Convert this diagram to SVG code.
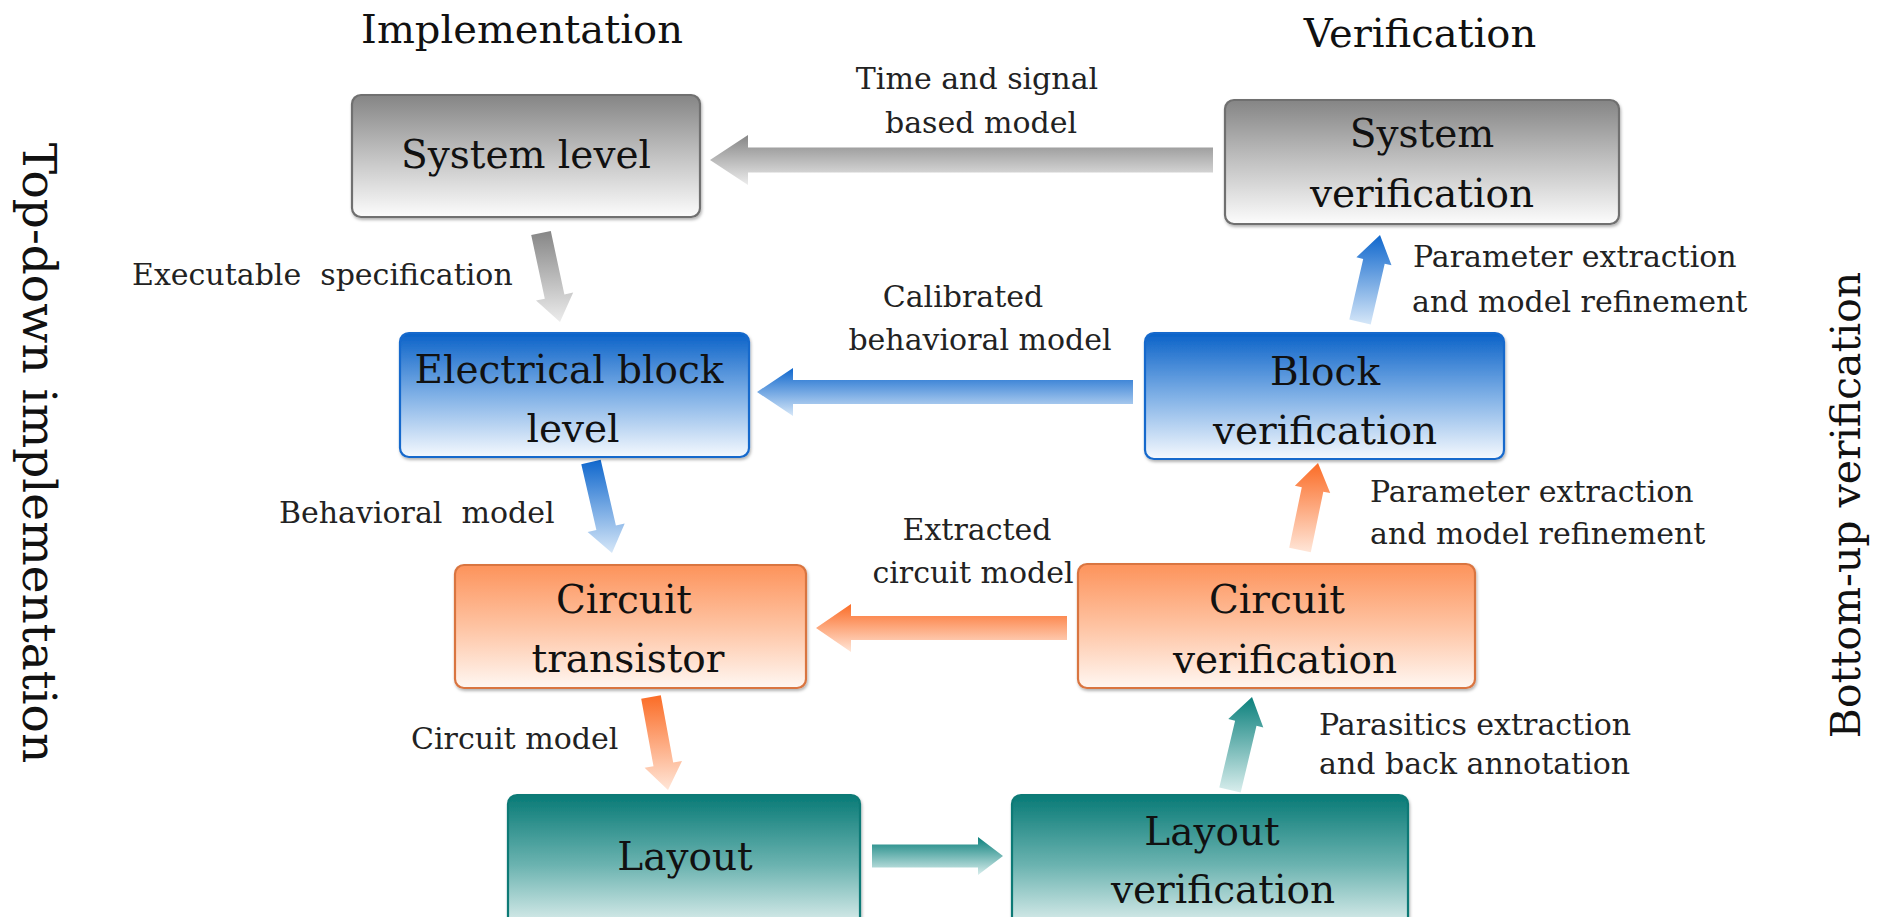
<svg xmlns="http://www.w3.org/2000/svg" width="1884" height="917" viewBox="0 0 1884 917">
  <defs>
    <!-- box fills: saturated at the top, fading to near white at the bottom -->
    <linearGradient id="gGray" x1="0" y1="0" x2="0" y2="1">
      <stop offset="0" stop-color="#858585"/>
      <stop offset="0.5" stop-color="#c2c2c2"/>
      <stop offset="1" stop-color="#fcfcfc"/>
    </linearGradient>
    <linearGradient id="gBlue" x1="0" y1="0" x2="0" y2="1">
      <stop offset="0" stop-color="#0a62c8"/>
      <stop offset="0.5" stop-color="#7fb0e6"/>
      <stop offset="1" stop-color="#f5f9fe"/>
    </linearGradient>
    <linearGradient id="gOrange" x1="0" y1="0" x2="0" y2="1">
      <stop offset="0" stop-color="#fd935b"/>
      <stop offset="0.5" stop-color="#fec3a2"/>
      <stop offset="1" stop-color="#fff7f2"/>
    </linearGradient>
    <linearGradient id="gTeal" x1="0" y1="0" x2="0" y2="1">
      <stop offset="0" stop-color="#087a76"/>
      <stop offset="0.5" stop-color="#6bb3b0"/>
      <stop offset="1" stop-color="#eef7f6"/>
    </linearGradient>
    <!-- arrow fills -->
    <linearGradient id="aGray" x1="0" y1="0" x2="0" y2="1">
      <stop offset="0" stop-color="#868686"/>
      <stop offset="1" stop-color="#ececec"/>
    </linearGradient>
    <linearGradient id="aBlue" x1="0" y1="0" x2="0" y2="1">
      <stop offset="0" stop-color="#0f67cd"/>
      <stop offset="1" stop-color="#d6e7f8"/>
    </linearGradient>
    <linearGradient id="aOrange" x1="0" y1="0" x2="0" y2="1">
      <stop offset="0" stop-color="#fb6c26"/>
      <stop offset="1" stop-color="#ffe6d8"/>
    </linearGradient>
    <linearGradient id="aTeal" x1="0" y1="0" x2="0" y2="1">
      <stop offset="0" stop-color="#0b807c"/>
      <stop offset="1" stop-color="#d9eeed"/>
    </linearGradient>
    <filter id="shadow" x="-5%" y="-10%" width="110%" height="125%">
      <feDropShadow dx="1" dy="2" stdDeviation="1.5" flood-color="#000" flood-opacity="0.3"/>
    </filter>
  </defs>
  <style>
    text { font-family: "DejaVu Serif", "Liberation Serif", serif; fill: #111; }
    .title { font-size: 40px; text-anchor: middle; }
    .side { font-size: 47px; text-anchor: middle; }
    .node { font-size: 39px; text-anchor: middle; }
    .lbl { font-size: 30px; fill: #222; }
    .mid { text-anchor: middle; }
    .box { stroke-width: 2.2; filter: url(#shadow); }
    .gray { fill: url(#gGray); stroke: #6f6f6f; }
    .blue { fill: url(#gBlue); stroke: #1669cc; }
    .orange { fill: url(#gOrange); stroke: #d97440; }
    .teal { fill: url(#gTeal); stroke: #0b7a76; }
  </style>

  <rect width="1884" height="917" fill="#ffffff"/>

  <!-- column and side headings -->
  <text class="title" x="522" y="43">Implementation</text>
  <text class="title" x="1420" y="47">Verification</text>
  <text class="side" transform="translate(23,453) rotate(90)">Top-down implementation</text>
  <text class="side" font-size="41" style="font-size:41px" transform="translate(1860,505) rotate(-90)">Bottom-up verification</text>

  <!-- connectors -->
  <g id="connectors">
    <polygon fill="url(#aGray)" points="1213,147.5 748,147.5 748,135 710,160 748,185 748,172.5 1213,172.5"/>
    <polygon fill="url(#aGray)" points="531.2,235.1 544.8,298.7 536.0,300.5 560,322 573.2,292.6 564.4,294.5 550.8,230.9"/>
    <polygon fill="url(#aBlue)" points="1133,380 793,380 793,368 757,392 793,416 793,404 1133,404"/>
    <polygon fill="url(#aBlue)" points="581.3,464.3 596.4,529.9 587.6,531.9 612,553 624.7,523.4 615.9,525.4 600.7,459.8"/>
    <polygon fill="url(#aBlue)" points="1370.7,324.5 1384.7,263.8 1391.5,265.3 1380,235 1356.4,257.3 1363.2,258.9 1349.3,319.5"/>
    <polygon fill="url(#aOrange)" points="1067,616 851,616 851,604 816,628 851,652 851,640 1067,640"/>
    <polygon fill="url(#aOrange)" points="641.2,698.8 653.5,766.2 644.6,767.8 668,790 682.0,761.0 673.2,762.6 660.8,695.2"/>
    <polygon fill="url(#aOrange)" points="1310.8,552.2 1323.3,491.7 1330.2,493.1 1318,463 1294.9,485.8 1301.8,487.2 1289.2,547.8"/>
    <polygon fill="url(#aTeal)" points="872,844.5 978,844.5 978,837 1003,856 978,875 978,867.5 872,867.5"/>
    <polygon fill="url(#aTeal)" points="1240.7,792.5 1256.5,725.8 1263.3,727.4 1252,697 1228.3,719.1 1235.1,720.7 1219.3,787.5"/>

    <!-- connector labels -->
    <text class="lbl mid" x="977" y="89">Time and signal</text>
    <text class="lbl mid" x="981" y="133">based model</text>
    <text class="lbl" x="132" y="285" xml:space="preserve">Executable  specification</text>
    <text class="lbl mid" x="963" y="307">Calibrated</text>
    <text class="lbl mid" x="980" y="350">behavioral model</text>
    <text class="lbl" x="1413" y="267">Parameter extraction</text>
    <text class="lbl" x="1412" y="312">and model refinement</text>
    <text class="lbl" x="279" y="523" xml:space="preserve">Behavioral  model</text>
    <text class="lbl mid" x="977" y="540">Extracted</text>
    <text class="lbl mid" x="973" y="583">circuit model</text>
    <text class="lbl" x="1370" y="502">Parameter extraction</text>
    <text class="lbl" x="1370" y="544">and model refinement</text>
    <text class="lbl" x="411" y="749">Circuit model</text>
    <text class="lbl" x="1319" y="735">Parasitics extraction</text>
    <text class="lbl" x="1319" y="774">and back annotation</text>
  </g>

  <!-- nodes -->
  <g id="system-level">
    <rect class="box gray" x="352" y="95" width="348" height="122" rx="9"/>
    <text class="node" x="526" y="168">System level</text>
  </g>
  <g id="system-verification">
    <rect class="box gray" x="1225" y="100" width="394" height="124" rx="9"/>
    <text class="node" x="1422" y="147">System</text>
    <text class="node" x="1422" y="207">verification</text>
  </g>
  <g id="electrical-block-level">
    <rect class="box blue" x="400" y="333" width="349" height="124" rx="9"/>
    <text class="node" x="569" y="383">Electrical block</text>
    <text class="node" x="573" y="442">level</text>
  </g>
  <g id="block-verification">
    <rect class="box blue" x="1145" y="333" width="359" height="126" rx="9"/>
    <text class="node" x="1325" y="385">Block</text>
    <text class="node" x="1325" y="444">verification</text>
  </g>
  <g id="circuit-transistor">
    <rect class="box orange" x="455" y="565" width="351" height="123" rx="9"/>
    <text class="node" x="624" y="613">Circuit</text>
    <text class="node" x="628" y="672">transistor</text>
  </g>
  <g id="circuit-verification">
    <rect class="box orange" x="1078" y="564" width="397" height="124" rx="9"/>
    <text class="node" x="1277" y="613">Circuit</text>
    <text class="node" x="1285" y="673">verification</text>
  </g>
  <g id="layout">
    <rect class="box teal" x="508" y="795" width="352" height="140" rx="9"/>
    <text class="node" x="685" y="870">Layout</text>
  </g>
  <g id="layout-verification">
    <rect class="box teal" x="1012" y="795" width="396" height="140" rx="9"/>
    <text class="node" x="1212" y="845">Layout</text>
    <text class="node" x="1223" y="903">verification</text>
  </g>
</svg>
